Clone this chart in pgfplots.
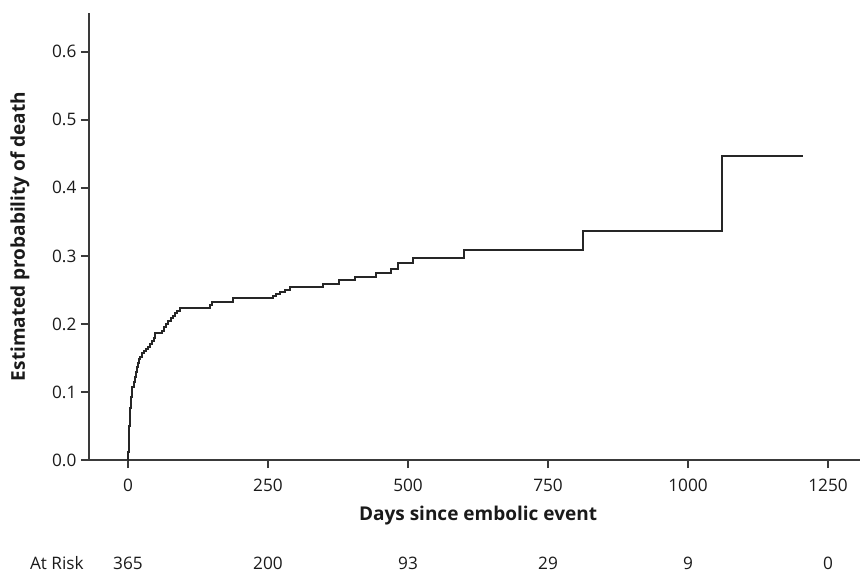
\documentclass[border=0pt]{standalone}
\usepackage{fontspec}
\setmainfont{Open Sans}
\usepackage{pgfplots}
\pgfplotsset{compat=1.18}
\definecolor{axisgray}{HTML}{3A3A3A}
\definecolor{curvegray}{HTML}{262626}
\definecolor{textgray}{HTML}{1A1A1A}

\pgfplotstableread{
day   prob
0     0.000
0.5   0.012
1     0.025
1.5   0.038
2     0.050
3     0.064
4     0.076
5     0.085
6     0.093
7     0.100
8     0.107
10    0.115
12    0.122
14    0.130
16    0.137
18    0.143
20    0.148
22    0.152
25    0.157
28    0.160
32    0.163
36    0.166
40    0.170
43    0.175
46    0.180
49    0.186
60    0.190
64    0.195
68    0.200
72    0.204
76    0.208
80    0.212
84    0.216
88    0.219
93    0.223
146   0.228
150   0.232
188   0.238
259   0.241
265   0.244
272   0.247
280   0.250
289   0.254
349   0.259
377   0.264
405   0.269
443   0.275
470   0.281
483   0.289
509   0.297
600   0.309
812   0.337
1061  0.447
1206  0.447
}\kmdata

\begin{document}
\begin{tikzpicture}
\useasboundingbox (-44.5bp,-56.5bp) rectangle (386bp,230bp);
\begin{axis}[
    name=ax,
    at={(0,0)}, anchor=south west,
    scale only axis,
    width=385.5bp, height=223.5bp,
    xmin=-69.6, xmax=1307,
    ymin=0, ymax=0.657,
    axis lines=left,
    axis line style={-, axisgray, line width=1bp},
    xtick={0,250,500,750,1000,1250},
    ytick={0,0.1,0.2,0.3,0.4,0.5,0.6},
    tick align=outside,
    major tick length=4bp,
    tick style={axisgray, line width=1bp},
    xticklabel style={/pgf/number format/1000 sep={}, font=\fontsize{8.6bp}{9.5bp}\selectfont, text=textgray, yshift=-2.2bp},
    yticklabel style={/pgf/number format/.cd, fixed, fixed zerofill, precision=1, /tikz/.cd, font=\fontsize{8.6bp}{9.5bp}\selectfont, text=textgray, xshift=1.2bp},
    /pgf/number format/assume math mode=true,
    xlabel={Days since embolic event},
    ylabel={Estimated probability of death},
    every axis x label/.style={at={(axis description cs:0.5046,0)}, anchor=center, yshift=-28bp, font=\fontsize{9.5bp}{10.5bp}\selectfont\bfseries, text=textgray},
    every axis y label/.style={at={(axis description cs:-0.0895,0.5)}, rotate=90, anchor=center, font=\fontsize{9.5bp}{10.5bp}\selectfont\bfseries, text=textgray},
    clip=false,
]
\addplot[const plot, curvegray, line width=1bp] table[x=day, y=prob] {\kmdata};

\begin{scope}[every node/.style={font=\fontsize{8.6bp}{9.5bp}\selectfont, text=textgray, anchor=center}]
\node at (axis cs:-127,0) [yshift=-51.5bp] {At Risk};
\node at (axis cs:0,0)    [yshift=-51.5bp] {365};
\node at (axis cs:250,0)  [yshift=-51.5bp] {200};
\node at (axis cs:500,0)  [yshift=-51.5bp] {93};
\node at (axis cs:750,0)  [yshift=-51.5bp] {29};
\node at (axis cs:1000,0) [yshift=-51.5bp] {9};
\node at (axis cs:1250,0) [yshift=-51.5bp] {0};
\end{scope}
\end{axis}
\end{tikzpicture}
\end{document}
